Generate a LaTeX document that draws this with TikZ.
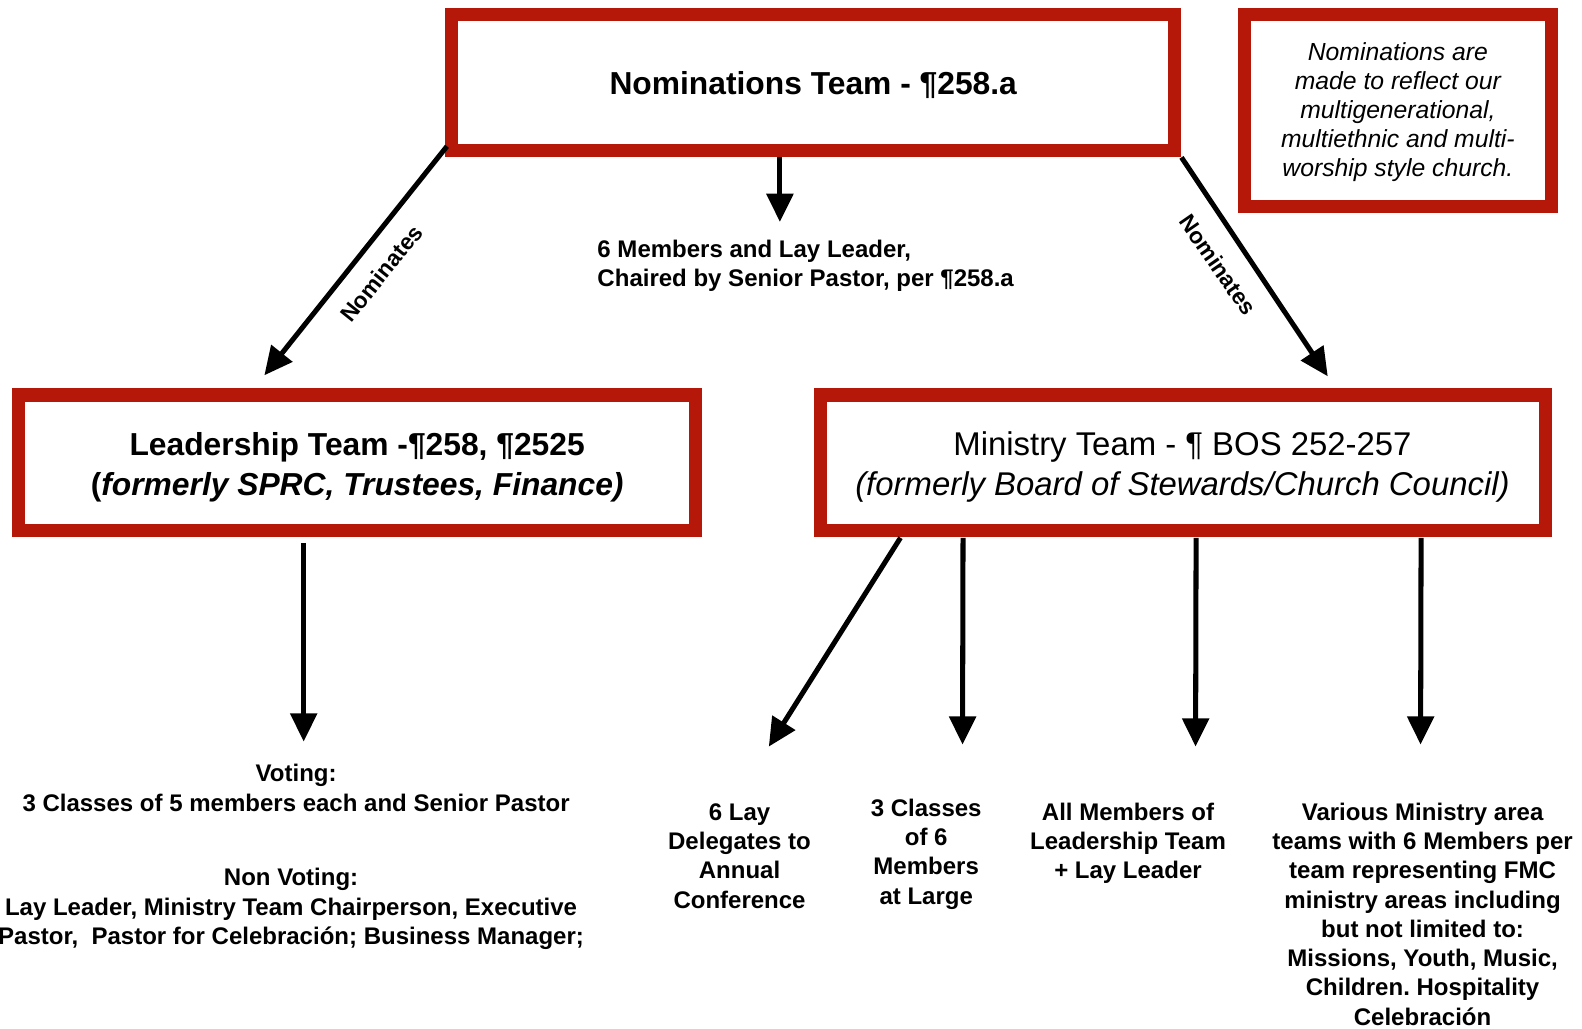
\documentclass[tikz,border=0pt]{standalone}
\usepackage{fontspec}
\setmainfont{Liberation Sans}
\usetikzlibrary{arrows.meta}
\definecolor{boxred}{RGB}{181,24,8}
\frenchspacing
\begin{document}
\begin{tikzpicture}[x=1pt,y=-1pt,
  redbox/.style={draw=boxred, line width=13pt, fill=white, inner sep=0pt},
  arr/.style={line width=5pt, -{Triangle[length=28pt,width=26pt]}},
  txt/.style={inner sep=0pt, text=black, align=center},
  bigtxt/.style={txt, font=\fontsize{31.5}{40}\selectfont},
  smalltxt/.style={txt, font=\fontsize{23.8}{29}\selectfont\bfseries},
  notetxt/.style={txt, font=\fontsize{24.5}{28.8}\selectfont\itshape},
  labtxt/.style={txt, font=\fontsize{22.5}{27}\selectfont\bfseries}
]
\useasboundingbox (0,0) rectangle (1568,1019);

% boxes
\node[redbox, minimum width=717pt, minimum height=135pt] (nom) at (806,82) {};
\node[redbox, minimum width=304pt, minimum height=190pt] (note) at (1385.5,109.5) {};
\node[redbox, minimum width=671pt, minimum height=134pt] (lead) at (354,458.5) {};
\node[redbox, minimum width=718pt, minimum height=134pt] (mint) at (1172.5,458.5) {};

% box texts (base anchor = baseline of the last line)
\node[bigtxt, anchor=base, font=\fontsize{31.5}{40}\selectfont\bfseries] (nomtxt) at (806,94) {Nominations Team - ¶258.a};
\node[notetxt, anchor=base] (notetext) at (1385.5,175) {Nominations are\\made to reflect our\\multigenerational,\\multiethnic and multi-\\worship style church.};
\node[bigtxt, anchor=base] (leadtxt) at (354,491) {\bfseries Leadership Team -¶258, ¶2525\\\bfseries (\itshape formerly SPRC, Trustees, Finance)};
\node[bigtxt, anchor=base, font=\fontsize{32.6}{40}\selectfont] (mintxt) at (1172,491) {Ministry Team - ¶ BOS 252-257\\\itshape (formerly Board of Stewards/Church Council)};

% free text
\node[smalltxt, anchor=base west, align=left] (members) at (592,284) {6 Members and Lay Leader,\\Chaired by Senior Pastor, per ¶258.a};
\node[smalltxt, anchor=base] (voting) at (293.5,804) {Voting:\\3 Classes of 5 members each and Senior Pastor};
\node[smalltxt, anchor=base] (nonvoting) at (288.5,936) {Non Voting:\\Lay Leader, Ministry Team Chairperson, Executive\\Pastor,\ \ Pastor for Celebración; Business Manager;};
\node[smalltxt, anchor=base] (delegates) at (733,900) {6 Lay\\Delegates to\\Annual\\Conference};
\node[smalltxt, anchor=base] (classes) at (918,896) {3 Classes\\of 6\\Members\\at Large};
\node[smalltxt, anchor=base] (allmem) at (1118,871) {All Members of\\Leadership Team\\+ Lay Leader};
\node[smalltxt, anchor=base] (various) at (1410,1016) {Various Ministry area\\teams with 6 Members per\\team representing FMC\\ministry areas including\\but not limited to:\\Missions, Youth, Music,\\Children. Hospitality\\Celebración};

% arrow ends
\coordinate (ltip) at (262,372);
\coordinate (rtip) at (1316,373);
\coordinate (mtip) at (773,220);
\coordinate (leaddown) at (301,735);
\coordinate (d1) at (762,740);
\coordinate (d2) at (954,738);
\coordinate (d3) at (1185,740);
\coordinate (d4) at (1408,738);

% connectors
\draw[arr] ([shift={(2,-11)}]nom.south west) -- (ltip);
\draw[arr] (nom.south east) -- (rtip);
\draw[arr] ([xshift=-33pt]nom.south) -- (mtip);
\draw[arr] ([shift={(-53,6)}]lead.south) -- (leaddown);
\draw[arr] ([shift={(-280,1)}]mint.south) -- (d1);
\draw[arr] ([shift={(-218,1)}]mint.south) -- (d2);
\draw[arr] ([shift={(13,1)}]mint.south) -- (d3);
\draw[arr] ([shift={(236,1)}]mint.south) -- (d4);

% labels on connectors
\node[labtxt, rotate=51.4] (nomlabL) at (378,271) {Nominates};
\node[labtxt, rotate=-55.3] (nomlabR) at (1207.5,262.5) {Nominates};
\end{tikzpicture}
\end{document}
